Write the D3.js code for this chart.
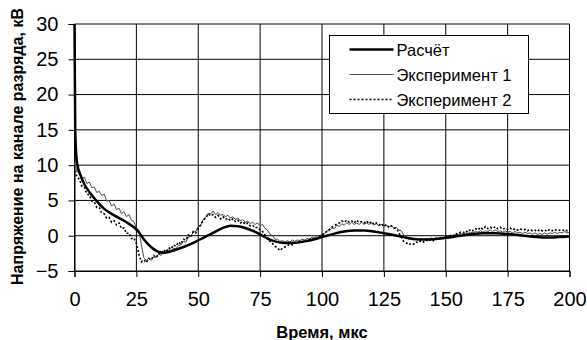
<!DOCTYPE html>
<html>
<head>
<meta charset="utf-8">
<script src="https://cdn.jsdelivr.net/npm/d3@7"></script>
<style>
  html, body { margin: 0; padding: 0; background: #fff; }
  svg { display: block; font-family: Arial, "Liberation Sans", sans-serif; }
</style>
</head>
<body>
<svg id="chart" width="587" height="340"></svg>
<script>
// Calculated discharge-channel voltage, kV, at irregular time points, µs
const calcTime = [0, 0.3, 0.8, 1.5, 2.5, 4, 6, 8, 10, 12, 15, 18, 21, 24, 26, 28, 30, 32, 34, 36, 38, 40, 44, 48, 52, 56, 60, 63, 66, 69, 72, 75, 78, 81, 85, 89, 93, 97, 101, 105, 109, 113, 117, 121, 125, 129, 133, 137, 141, 145, 150, 155, 160, 165, 170, 175, 180, 185, 190, 195, 200];
const calcVoltage = [30, 15, 11, 9.5, 8.5, 7.3, 6.2, 5.3, 4.5, 3.8, 3.1, 2.5, 1.9, 1.2, 0.5, -0.5, -1.3, -1.9, -2.3, -2.4, -2.3, -2.1, -1.6, -1.0, -0.3, 0.4, 1.1, 1.4, 1.35, 1.1, 0.7, 0.2, -0.4, -0.8, -1.05, -1.0, -0.8, -0.5, -0.1, 0.3, 0.6, 0.75, 0.75, 0.6, 0.35, 0.1, -0.2, -0.45, -0.55, -0.5, -0.3, -0.05, 0.2, 0.35, 0.35, 0.25, 0.05, -0.15, -0.25, -0.2, -0.1];

// Measured records, sampled every 1 µs from 0 to 200 µs
const expStep = 1;
const exp1Voltage = [
  10.4, 9.0, 9.4, 8.1, 8.3, 7.4, 7.6, 6.8, 6.9, 6.1,
  6.3, 5.7, 5.9, 4.9, 5.0, 4.2, 4.5, 3.7, 3.9, 3.1,
  3.4, 2.7, 3.0, 2.2, 2.0, 1.1, 0.8, -1.2, -3.1, -3.5,
  -3.2, -3.5, -3.0, -3.1, -2.6, -2.8, -2.3, -2.5, -2.0, -2.1,
  -1.8, -1.8, -1.4, -1.3, -0.8, -0.9, -0.2, -0.1, 0.5, 0.6,
  1.3, 1.5, 2.3, 2.6, 3.2, 3.1, 3.5, 3.0, 3.3, 2.9,
  3.0, 2.7, 2.9, 2.5, 2.7, 2.3, 2.5, 2.1, 2.3, 1.9,
  2.1, 1.7, 1.9, 1.6, 1.8, 1.4, 1.6, 1.0, 0.8, 0.2,
  0.0, -0.5, -0.5, -0.8, -0.7, -0.9, -0.7, -0.9, -0.6, -0.8,
  -0.6, -0.7, -0.5, -0.6, -0.4, -0.5, -0.2, -0.3, 0.0, -0.1,
  0.3, 0.3, 0.7, 0.7, 1.1, 1.0, 1.5, 1.3, 1.7, 1.5,
  1.8, 1.6, 1.9, 1.6, 1.8, 1.6, 1.9, 1.6, 1.8, 1.6,
  1.8, 1.5, 1.7, 1.4, 1.6, 1.3, 1.5, 1.2, 1.4, 1.1,
  1.2, 0.8, 0.7, 0.1, -0.1, -0.5, -0.3, -0.6, -0.4, -0.6,
  -0.4, -0.6, -0.4, -0.5, -0.3, -0.5, -0.3, -0.4, -0.2, -0.3,
  -0.1, -0.2, 0.1, 0.0, 0.2, 0.1, 0.3, 0.2, 0.4, 0.3,
  0.5, 0.4, 0.6, 0.5, 0.7, 0.5, 0.7, 0.6, 0.8, 0.6,
  0.8, 0.6, 0.7, 0.5, 0.7, 0.5, 0.6, 0.4, 0.6, 0.4,
  0.5, 0.3, 0.5, 0.3, 0.4, 0.2, 0.4, 0.2, 0.3, 0.2,
  0.4, 0.2, 0.4, 0.3, 0.5, 0.3, 0.5, 0.4, 0.6, 0.4,
  0.5
];
const exp2Voltage = [
  9.2, 8.3, 8.0, 7.0, 6.9, 5.9, 5.8, 4.9, 4.8, 4.0,
  4.0, 3.2, 3.1, 2.5, 2.6, 1.9, 2.1, 1.5, 1.8, 1.0,
  1.1, 0.3, 0.4, -0.4, -0.3, -1.1, -2.6, -3.7, -3.4, -3.8,
  -3.2, -3.4, -2.8, -3.1, -2.5, -2.6, -2.0, -2.3, -1.7, -1.9,
  -1.3, -1.5, -0.9, -1.2, -0.5, -0.6, 0.1, -0.2, 0.6, 0.4,
  1.1, 1.5, 2.2, 2.5, 3.1, 2.8, 3.0, 2.6, 2.9, 2.4,
  2.7, 2.3, 2.5, 2.1, 2.4, 2.0, 2.2, 1.8, 2.0, 1.6,
  1.8, 1.4, 1.5, 1.1, 1.2, 0.8, 0.6, 0.1, -0.3, -0.8,
  -1.1, -1.5, -1.7, -2.1, -1.8, -1.6, -1.4, -1.2, -1.3, -1.0,
  -1.0, -0.8, -0.9, -0.7, -0.8, -0.5, -0.6, -0.3, -0.4, -0.1,
  0.0, 0.4, 0.6, 0.9, 1.2, 1.4, 1.7, 1.8, 2.1, 1.9,
  2.2, 1.9, 2.1, 1.8, 2.2, 1.9, 2.0, 1.8, 2.1, 1.7,
  2.0, 1.6, 1.8, 1.5, 1.7, 1.3, 1.6, 1.2, 1.4, 1.1,
  1.0, 0.5, -0.2, -0.8, -1.0, -1.3, -1.1, -1.2, -0.9, -1.0,
  -0.7, -0.9, -0.6, -0.8, -0.5, -0.7, -0.4, -0.6, -0.3, -0.4,
  -0.1, -0.2, 0.1, 0.0, 0.3, 0.2, 0.5, 0.4, 0.7, 0.5,
  0.9, 0.7, 1.0, 0.8, 1.2, 0.9, 1.3, 1.0, 1.2, 1.0,
  1.3, 1.0, 1.2, 0.9, 1.1, 0.9, 1.1, 0.8, 1.0, 0.8,
  1.0, 0.8, 0.9, 0.7, 0.9, 0.7, 0.8, 0.6, 0.9, 0.7,
  0.8, 0.6, 0.9, 0.7, 0.9, 0.7, 0.8, 0.7, 0.9, 0.7,
  0.8
];

const xTicks = [0, 25, 50, 75, 100, 125, 150, 175, 200];
const yTicks = [-5, 0, 5, 10, 15, 20, 25, 30];
const seriesNames = ["Расчёт", "Эксперимент 1", "Эксперимент 2"];
const xTitle = "Время, мкс";
const yTitle = "Напряжение на канале разряда, кВ";

const svg = d3.select("#chart");
const plot = { left: 74.5, right: 569.5, top: 24, bottom: 271 };

const x = d3.scaleLinear().domain([0, 200]).range([plot.left, plot.right]);
const y = d3.scaleLinear().domain([-5, 30]).range([plot.bottom, plot.top]);

// grid
const grid = svg.append("g");
grid.selectAll("line.h").data(yTicks).join("line")
  .attr("class", "h")
  .attr("x1", plot.left).attr("x2", plot.right)
  .attr("y1", d => y(d)).attr("y2", d => y(d))
  .attr("stroke", "#000").attr("stroke-width", 1);
grid.selectAll("line.v").data(xTicks).join("line")
  .attr("class", "v")
  .attr("x1", d => x(d)).attr("x2", d => x(d))
  .attr("y1", plot.top).attr("y2", plot.bottom)
  .attr("stroke", "#000").attr("stroke-width", 1);

// axes
const yAxis = d3.axisLeft(y).tickValues(yTicks).tickSize(6).tickPadding(10).tickFormat(d3.format("d"));
const gy = svg.append("g").attr("transform", `translate(${plot.left},0)`).call(yAxis);
gy.select(".domain").attr("stroke", "#000");
gy.selectAll("text").attr("font-size", 20).attr("font-family", "Arial, 'Liberation Sans', sans-serif").attr("fill", "#000");

const xAxis = d3.axisBottom(x).tickValues(xTicks).tickSize(6).tickPadding(15).tickFormat(d3.format("d"));
const gx = svg.append("g").attr("transform", `translate(0,${plot.bottom})`).call(xAxis);
gx.select(".domain").attr("stroke", "#000");
gx.selectAll("text").attr("font-size", 20).attr("font-family", "Arial, 'Liberation Sans', sans-serif").attr("fill", "#000");

// titles
svg.append("text")
  .attr("x", (plot.left + plot.right) / 2).attr("y", 338)
  .attr("text-anchor", "middle")
  .attr("font-size", 16.5).attr("font-weight", "bold")
  .text(xTitle);
svg.append("text")
  .attr("transform", `translate(23,${(plot.top + plot.bottom) / 2 - 1}) rotate(-90)`)
  .attr("text-anchor", "middle")
  .attr("font-size", 16).attr("font-weight", "bold")
  .text(yTitle);

// series
const line = d3.line().x(d => x(d[0])).y(d => y(d[1]));
const calcPts = calcTime.map((t, i) => [t, calcVoltage[i]]);
const exp1Pts = exp1Voltage.map((v, i) => [i * expStep, v]);
const exp2Pts = exp2Voltage.map((v, i) => [i * expStep, v]);

const styles = [
  { stroke: "#000", width: 2.5, dash: null },
  { stroke: "#4a4a4a", width: 1, dash: null },
  { stroke: "#000", width: 1.6, dash: "2,2" }
];

const lines = svg.append("g").attr("fill", "none");
lines.append("path").datum(exp1Pts)
  .attr("d", line.curve(d3.curveLinear))
  .attr("stroke", styles[1].stroke).attr("stroke-width", styles[1].width);
lines.append("path").datum(exp2Pts)
  .attr("d", line.curve(d3.curveLinear))
  .attr("stroke", styles[2].stroke).attr("stroke-width", styles[2].width)
  .attr("stroke-dasharray", styles[2].dash);
lines.append("path").datum(calcPts)
  .attr("d", d3.line().x(d => x(d[0])).y(d => y(d[1])).curve(d3.curveMonotoneX))
  .attr("stroke", styles[0].stroke).attr("stroke-width", styles[0].width);

// legend
const lg = svg.append("g").attr("transform", "translate(329.5,35.5)");
lg.append("rect").attr("width", 199).attr("height", 78)
  .attr("fill", "#fff").attr("stroke", "#000").attr("stroke-width", 1);
seriesNames.forEach((name, i) => {
  const ly = 14 + i * 25;
  lg.append("line").attr("x1", 20).attr("x2", 64).attr("y1", ly).attr("y2", ly)
    .attr("stroke", styles[i].stroke).attr("stroke-width", styles[i].width)
    .attr("stroke-dasharray", styles[i].dash);
  lg.append("text").attr("x", 67).attr("y", ly + 6)
    .attr("font-size", 16.5).text(name);
});
</script>
</body>
</html>
